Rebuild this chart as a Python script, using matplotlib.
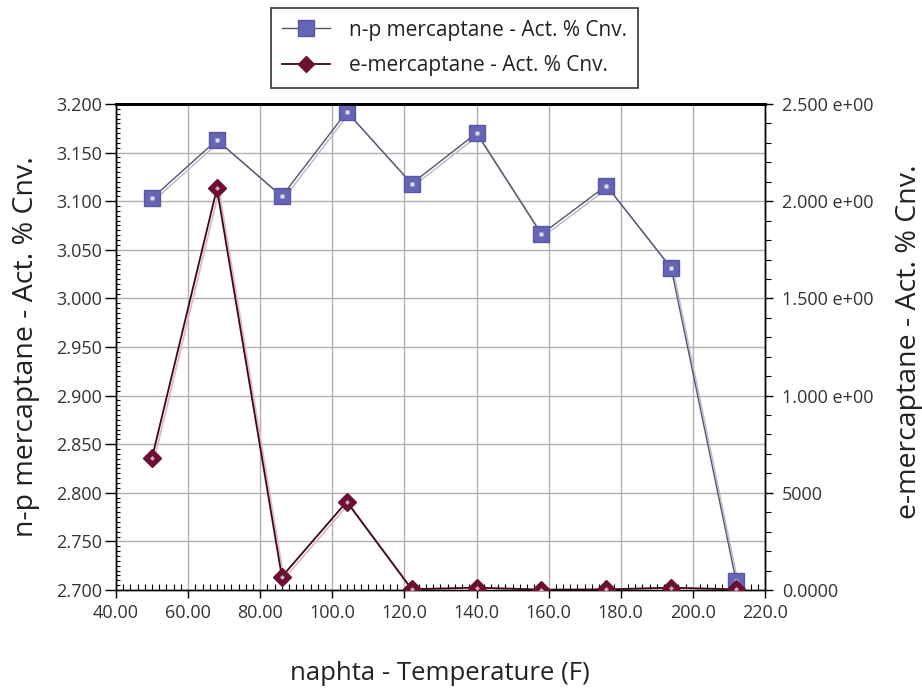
import numpy as np
import matplotlib
matplotlib.use('Agg')
import matplotlib.pyplot as plt
import matplotlib.patheffects as pe
from matplotlib.lines import Line2D
from matplotlib.ticker import MultipleLocator

plt.rcParams['font.family'] = ['Open Sans', 'DejaVu Sans']

# Data
temperature = [50, 68, 86, 104, 122, 140, 158, 176, 194, 212]
np_mercaptane = [3.103, 3.163, 3.105, 3.192, 3.118, 3.170, 3.066, 3.116, 3.031, 2.709]
e_mercaptane = [0.680, 2.066, 0.068, 0.454, 0.004, 0.012, 0.002, 0.003, 0.012, 0.003]

x_ticks = [40, 60, 80, 100, 120, 140, 160, 180, 200, 220]
x_tick_labels = ['40.00', '60.00', '80.00', '100.0', '120.0', '140.0',
                 '160.0', '180.0', '200.0', '220.0']
left_ticks = [2.70, 2.75, 2.80, 2.85, 2.90, 2.95, 3.00, 3.05, 3.10, 3.15, 3.20]
right_ticks = [0.0, 0.5, 1.0, 1.5, 2.0, 2.5]
right_tick_labels = ['0.0000', '5000', '1.000 e+00', '1.500 e+00',
                     '2.000 e+00', '2.500 e+00']

np_label = 'n-p mercaptane - Act. % Cnv.'
e_label = 'e-mercaptane - Act. % Cnv.'

fig = plt.figure(figsize=(9.22, 6.91), dpi=100)
ax = fig.add_axes([0.1258, 0.1462, 0.7039, 0.7033])
ax2 = ax.twinx()

blue = '#6565b3'
blue_edge = '#5757a6'
maroon = '#6b1033'
blue_line = '#55556a'
maroon_line = '#3a0a1c'

# n-p mercaptane on the left axis (line with a light drop shadow, then markers)
ax.plot(temperature, np_mercaptane, color=blue_line, lw=1.0, zorder=3,
        path_effects=[pe.SimpleLineShadow(offset=(1.5, -1.5), shadow_color='#b8b8d0', alpha=1.0),
                      pe.Normal()])
ax.plot(temperature, np_mercaptane, ls='none', marker='s', ms=11.5,
        mfc=blue, mec=blue_edge, mew=1.0, zorder=4)
ax.plot(temperature, np_mercaptane, ls='none', marker='s', ms=3.5,
        mfc='#dcdcf2', mec='none', zorder=5)

# e-mercaptane on the right axis
ax2.plot(temperature, e_mercaptane, color=maroon_line, lw=1.3, zorder=3,
         path_effects=[pe.SimpleLineShadow(offset=(1.5, -1.5), shadow_color='#e2b8c6', alpha=1.0),
                       pe.Normal()])
ax2.plot(temperature, e_mercaptane, ls='none', marker='D', ms=9,
         mfc=maroon, mec=maroon, zorder=4)
ax2.plot(temperature, e_mercaptane, ls='none', marker='D', ms=2.5,
         mfc='#d9a7b8', mec='none', zorder=5)

ax.set_xlim(40, 220)
ax.set_ylim(2.70, 3.20)
ax2.set_ylim(0, 2.5)

ax.set_xticks(x_ticks)
ax.set_xticklabels(x_tick_labels)
ax.set_yticks(left_ticks)
ax.set_yticklabels(['%.3f' % v for v in left_ticks])
ax2.set_yticks(right_ticks)
ax2.set_yticklabels(right_tick_labels)

ax.xaxis.set_minor_locator(MultipleLocator(2))
ax.yaxis.set_minor_locator(MultipleLocator(0.005))
ax2.yaxis.set_minor_locator(MultipleLocator(0.1))

ax.grid(True, which='major', color='#b0b0b0', lw=1.0)
ax.set_axisbelow(True)

tick_color = '#333333'
tick_size = 13
ax.tick_params(axis='x', which='major', length=6, width=1, labelsize=tick_size,
               labelcolor=tick_color, pad=4)
ax.tick_params(axis='y', which='major', length=8, width=1, labelsize=tick_size,
               labelcolor=tick_color, pad=2)
ax.tick_params(axis='y', which='minor', direction='in', length=3, width=0.8)
ax.tick_params(axis='x', which='minor', direction='in', length=4, width=0.8)
ax2.tick_params(axis='y', which='major', length=6, width=1, labelsize=tick_size,
                labelcolor=tick_color, pad=6)
ax2.tick_params(axis='y', which='minor', direction='out', length=4, width=0.8)

for a in (ax, ax2):
    for s in a.spines.values():
        s.set_color('black')
        s.set_linewidth(1.0)
    a.spines['top'].set_linewidth(2.0)

label_color = '#222222'
fig.text(0.4772, 0.026, 'naphta - Temperature (F)', fontsize=18.5,
         color=label_color, ha='center', va='center')
fig.text(0.028, 0.498, np_label, fontsize=20.5, color=label_color,
         rotation=90, ha='center', va='center')
fig.text(0.986, 0.505, e_label, fontsize=20.5, color=label_color,
         rotation=90, ha='center', va='center')

handles = [
    Line2D([], [], color=blue_line, lw=1.0, marker='s', ms=11, mfc=blue, mec=blue_edge),
    Line2D([], [], color=maroon_line, lw=1.3, marker='D', ms=8.5, mfc=maroon, mec=maroon),
]
leg = fig.legend(handles, [np_label, e_label], loc='upper center',
                 bbox_to_anchor=(0.493, 0.988), borderaxespad=0, fontsize=15,
                 frameon=True, fancybox=False, edgecolor='black',
                 handlelength=2.3, handletextpad=0.9, labelspacing=0.7,
                 borderpad=0.55)
leg.get_frame().set_linewidth(1.2)
for t in leg.get_texts():
    t.set_color('#222222')

plt.savefig('out.png', dpi=100)
